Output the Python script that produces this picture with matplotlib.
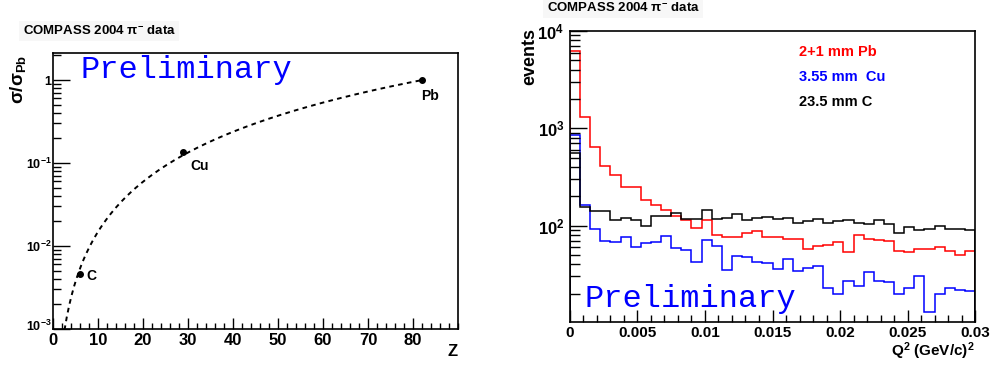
import numpy as np
import matplotlib.pyplot as plt
import matplotlib.transforms as mtransforms
from matplotlib.ticker import NullFormatter, MultipleLocator, LogLocator

plt.rcParams['font.family'] = ['Liberation Sans', 'DejaVu Sans']
plt.rcParams['font.weight'] = 'bold'
plt.rcParams['mathtext.fontset'] = 'custom'
plt.rcParams['mathtext.rm'] = 'Liberation Sans:bold'
plt.rcParams['mathtext.bf'] = 'Liberation Sans:bold'
plt.rcParams['mathtext.it'] = 'Liberation Sans:bold'
plt.rcParams['mathtext.default'] = 'bf'

# --- left panel data: cross-section ratio vs Z ---
targets = ['C', 'Cu', 'Pb']
target_z = [6, 29, 82]
sigma_ratio = [0.0046, 0.136, 1.0]
fit_exponent = 2.0   # dashed fit curve ~ (Z / Z_Pb)^alpha

# --- right panel data: Q^2 histograms, 40 bins over 0..0.03 ---
q2_edges = np.linspace(0, 0.03, 41)
counts_pb = [6180, 1318, 649, 414, 334, 252, 252, 181, 164, 143,
             124, 115, 95, 113, 80, 76, 76, 84, 88, 76,
             76, 73, 73, 58, 62, 63, 67, 53, 80, 73,
             71, 70, 55, 53, 57, 57, 60, 55, 50, 55]
counts_cu = [855, 164, 92, 69, 68, 76, 60, 66, 68, 78,
             59, 56, 42, 71, 62, 35, 49, 47, 42, 41,
             36, 45, 34, 37, 38, 23, 20, 27, 24, 33,
             27, 26, 20, 23, 30, 13, 20, 23, 22, 21]
counts_c = [560, 154, 140, 140, 115, 120, 115, 98, 125, 125,
            134, 117, 117, 146, 117, 120, 130, 115, 120, 123,
            117, 120, 107, 111, 116, 106, 112, 113, 107, 103,
            114, 104, 84, 96, 89, 93, 98, 93, 93, 89]
hist_labels = ['2+1 mm Pb', '3.55 mm  Cu', '23.5 mm C']
hist_colors = ['#ff0000', '#0000ff', '#000000']

fig = plt.figure(figsize=(9.98, 3.65), dpi=100)
fig.set_facecolor('white')

# ---------------- left panel ----------------
ax1 = fig.add_axes([0.0531, 0.0986, 0.4058, 0.7562])
zz = np.linspace(2.0, target_z[-1], 300)
ax1.plot(zz, (zz / target_z[-1]) ** fit_exponent, color='black', lw=1.4,
         ls=(0, (2.4, 2.2)))
ax1.plot(target_z, sigma_ratio, 'o', color='black', ms=4)
label_offsets = {'C': (8, -1.5), 'Cu': (11.5, -10), 'Pb': (5.8, -11.5)}
for name, z, s in zip(targets, target_z, sigma_ratio):
    ax1.annotate(name, (z, s), xytext=label_offsets[name], textcoords='offset points',
                 ha='center', va='center', fontsize=10, fontweight='bold')
ax1.set_yscale('log')
ax1.set_xlim(0, 90)
ax1.set_ylim(1e-3, 2.12)
ax1.set_xticks(np.arange(0, 90, 10))
ax1.set_xticklabels([str(v) for v in range(0, 90, 10)], fontsize=12)
ax1.xaxis.set_minor_locator(MultipleLocator(2))
ax1.set_yticks([1e-3, 1e-2, 1e-1, 1])
ax1.set_yticklabels([r'$10^{-3}$', r'$10^{-2}$', r'$10^{-1}$', '1'], fontsize=9)
ax1.yaxis.set_minor_locator(LogLocator(base=10, subs=np.arange(2, 10), numticks=50))
ax1.yaxis.set_minor_formatter(NullFormatter())
ax1.tick_params(which='both', direction='in', top=False, right=False, width=1)
ax1.tick_params(axis='y', which='major', length=12, pad=1)
ax1.tick_params(axis='y', which='minor', length=6, left=True)
ax1.tick_params(axis='x', which='major', length=8, pad=3)
ax1.tick_params(axis='x', which='minor', length=4, bottom=True)
# lift the lowest y label a little so it clears the "0" below it
lbl = ax1.get_yticklabels()[0]
lbl.set_transform(lbl.get_transform() + mtransforms.ScaledTranslation(0, 3 / 72, fig.dpi_scale_trans))
ax1.text(0.067, 0.909, 'Preliminary', transform=ax1.transAxes, family='Liberation Mono',
         fontweight='normal', fontsize=23, color='#0000ff', va='baseline')

# ---------------- right panel ----------------
ax2 = fig.add_axes([0.5711, 0.1178, 0.4059, 0.7973])
for counts, col in zip([counts_pb, counts_cu, counts_c], hist_colors):
    ax2.stairs(counts, q2_edges, color=col, lw=1.1)
ax2.set_yscale('log')
ax2.set_xlim(0, 0.03)
ax2.set_ylim(10.2, 1e4)
ax2.set_xticks([0, 0.005, 0.01, 0.015, 0.02, 0.025, 0.03])
ax2.set_xticklabels(['0', '0.005', '0.01', '0.015', '0.02', '0.025', '0.03'], fontsize=11)
ax2.xaxis.set_minor_locator(MultipleLocator(0.001))
ax2.set_yticks([1e2, 1e3, 1e4])
ax2.set_yticklabels([r'$10^{2}$', r'$10^{3}$', r'$10^{4}$'], fontsize=12)
ax2.yaxis.set_minor_locator(LogLocator(base=10, subs=np.arange(2, 10), numticks=50))
ax2.yaxis.set_minor_formatter(NullFormatter())
ax2.tick_params(which='both', direction='in', top=False, right=False, width=1)
ax2.tick_params(axis='y', which='major', length=12, pad=4)
ax2.tick_params(axis='y', which='minor', length=7, left=True)
ax2.tick_params(axis='x', which='major', length=9, pad=3)
ax2.tick_params(axis='x', which='minor', length=5, bottom=True)
for i, (lab, col) in enumerate(zip(hist_labels, hist_colors)):
    ax2.text(0.565, 0.928 - i * 0.086, lab, transform=ax2.transAxes, color=col,
             fontsize=10.5, fontweight='bold', va='center')
ax2.text(0.037, 0.053, 'Preliminary', transform=ax2.transAxes, family='Liberation Mono',
         fontweight='normal', fontsize=23, color='#0000ff', va='baseline')

for ax in (ax1, ax2):
    for sp in ax.spines.values():
        sp.set_linewidth(1.2)

# titles and axis titles
title = r'COMPASS 2004 $\pi^{-}$ data'
box = dict(facecolor='#f7f7f7', edgecolor='none', pad=2.5)
fig.text(99 / 998, 1 - 31 / 365, title, ha='center', va='center', fontsize=9.5, bbox=box)
fig.text(623 / 998, 1 - 8 / 365, title, ha='center', va='center', fontsize=9.5, bbox=box)
fig.text(18 / 998, 1 - 55 / 365, r'$\sigma/\sigma_{Pb}$', rotation=90, ha='center',
         va='top', fontsize=13.5)
fig.text(530 / 998, 1 - 28 / 365, 'events', rotation=90, ha='center', va='top', fontsize=13)
fig.text(458 / 998, 1 - 352 / 365, 'Z', ha='right', va='center', fontsize=12)
fig.text(975 / 998, 1 - 351 / 365, r'$Q^{2}$ (GeV/c)$^{2}$', ha='right', va='center',
         fontsize=11)

fig.savefig('out.png', dpi=100, facecolor='white')
